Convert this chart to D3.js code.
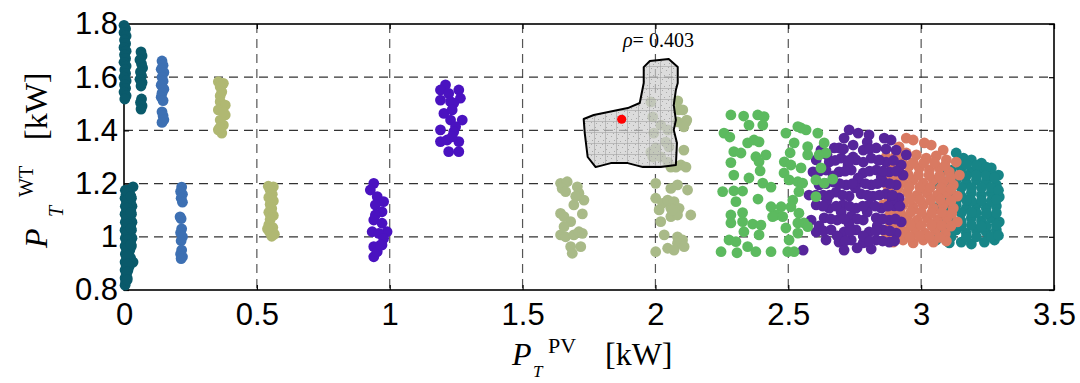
<!DOCTYPE html>
<html>
<head>
<meta charset="utf-8">
<script src="https://cdn.jsdelivr.net/npm/d3@7"></script>
<style>
  body { margin: 0; background: #fff; }
  svg { display: block; }
</style>
</head>
<body>
<svg id="chart" width="1080" height="383"></svg>
<script>
// axis ticks
var xTicks = [0, 0.5, 1, 1.5, 2, 2.5, 3, 3.5];
var xTickLabels = ["0", "0.5", "1", "1.5", "2", "2.5", "3", "3.5"];
var yTicks = [0.8, 1, 1.2, 1.4, 1.6, 1.8];
var yTickLabels = ["0.8", "1", "1.2", "1.4", "1.6", "1.8"];

// scatter groups, values [PV kW, WT kW]
var darkTealPts = [
  [0,1.795],[0.006,1.782],[0,1.768],[0.008,1.755],[0.002,1.740],[0.006,1.726],[0,1.712],
  [0.008,1.698],[0.002,1.684],[0.006,1.670],[0,1.656],[0.008,1.642],[0.003,1.628],[0.006,1.614],
  [0,1.600],[0.008,1.586],[0.002,1.572],[0.006,1.558],[0,1.544],[0.008,1.530],[0.003,1.518],
  [0.005,1.175],[0.015,1.175],[0.008,1.160],[0.022,1.160],[0.004,1.145],[0.018,1.145],[0.028,1.145],
  [0.010,1.130],[0.024,1.130],[0.005,1.115],[0.018,1.115],[0.030,1.115],[0.010,1.100],[0.025,1.100],
  [0.004,1.085],[0.017,1.085],[0.028,1.085],[0.010,1.070],[0.022,1.070],[0.005,1.055],[0.018,1.055],
  [0.030,1.055],[0.010,1.040],[0.024,1.040],[0.004,1.025],[0.017,1.025],[0.028,1.025],[0.010,1.010],
  [0.022,1.010],[0.005,0.995],[0.018,0.995],[0.030,0.995],[0.010,0.980],[0.024,0.980],[0.004,0.965],
  [0.017,0.965],[0.028,0.965],[0.010,0.950],[0.022,0.950],[0.005,0.935],[0.018,0.935],[0.010,0.920],
  [0.025,0.920],[0.004,0.905],[0.016,0.905],[0.034,0.905],[0.008,0.890],[0.020,0.890],[0.004,0.875],
  [0.015,0.875],[0.008,0.860],[0.004,0.845],[0.012,0.845],[0.006,0.830],[0.004,0.818],[0.034,1.188],
  [0.012,1.168],[0.012,1.138],[0.012,1.108],[0.012,1.078],[0.012,1.048],[0.012,1.018],[0.012,0.988],
  [0.012,0.958],[0.012,0.928],[0.012,0.898],[0.012,0.868],[0.012,0.838],[0.026,1.152],[0.026,1.092],
  [0.026,1.032],[0.026,0.972],
  [0.064,1.695],[0.068,1.680],[0.060,1.665],[0.066,1.650],[0.070,1.635],[0.062,1.620],[0.066,1.605],
  [0.060,1.592],[0.068,1.580],[0.064,1.567],[0.066,1.518],[0.062,1.505],[0.068,1.492],[0.064,1.480]
];
var bluePts = [
  [0.143,1.661],[0.147,1.645],[0.140,1.630],[0.150,1.618],[0.143,1.600],[0.147,1.585],[0.140,1.570],
  [0.150,1.555],[0.143,1.540],[0.140,1.525],[0.147,1.512],[0.143,1.470],[0.147,1.455],[0.150,1.440],
  [0.143,1.430],
  [0.217,1.187],[0.213,1.170],[0.220,1.160],[0.215,1.145],[0.220,1.130],[0.211,1.075],[0.215,1.068],
  [0.217,1.030],[0.213,1.015],[0.220,1.000],[0.215,0.985],[0.217,0.950],[0.213,0.935],[0.220,0.925],
  [0.215,0.918]
];
var khakiPts = [
  [0.355,1.583],[0.374,1.577],[0.362,1.564],[0.368,1.545],[0.362,1.508],[0.381,1.495],[0.355,1.477],
  [0.381,1.458],[0.362,1.439],[0.374,1.420],[0.355,1.402],[0.368,1.390],[0.362,1.530],[0.374,1.470],
  [0.360,1.410],
  [0.543,1.190],[0.562,1.188],[0.550,1.175],[0.558,1.160],[0.545,1.148],[0.562,1.135],[0.550,1.122],
  [0.556,1.105],[0.545,1.092],[0.562,1.080],[0.550,1.065],[0.545,1.045],[0.560,1.035],[0.548,1.018],
  [0.556,1.002],[0.566,1.010],[0.540,1.030],[0.553,1.110]
];
var violetPts = [
  [0.940,1.201],[0.927,1.176],[0.953,1.151],[0.977,1.132],[0.946,1.120],[0.971,1.094],[0.946,1.082],
  [0.940,1.063],[0.971,1.051],[0.934,1.019],[0.990,1.019],[0.959,1.013],[0.977,0.994],[0.940,0.963],
  [0.971,0.969],[0.940,0.925],[0.953,0.944],[0.965,0.969],
  [1.210,1.571],[1.191,1.552],[1.222,1.539],[1.260,1.552],[1.266,1.521],[1.191,1.514],[1.229,1.508],
  [1.241,1.502],[1.204,1.464],[1.235,1.477],[1.229,1.439],[1.273,1.439],[1.248,1.414],[1.241,1.395],
  [1.191,1.402],[1.191,1.358],[1.216,1.364],[1.260,1.358],[1.222,1.320],[1.260,1.320],[1.235,1.376]
];
var sagePts = [
  [1.643,1.201],[1.668,1.207],[1.649,1.182],[1.662,1.170],[1.706,1.188],[1.712,1.164],[1.731,1.138],
  [1.693,1.120],[1.643,1.088],[1.656,1.076],[1.681,1.057],[1.725,1.086],[1.643,1.007],[1.662,1.000],
  [1.693,1.007],[1.712,1.019],[1.725,1.013],[1.681,0.963],[1.719,0.963],[1.687,0.938],[1.656,1.038],
  [1.700,1.152],
  [2.001,1.201],[2.058,1.182],[2.083,1.195],[2.121,1.176],[2.001,1.145],[2.027,1.126],[2.046,1.138],
  [2.070,1.132],[2.058,1.107],[2.089,1.107],[2.014,1.101],[2.058,1.076],[2.083,1.082],[2.133,1.082],
  [2.020,1.057],[2.033,1.007],[2.083,1.000],[2.102,0.988],[2.083,0.976],[2.001,0.944],[2.046,0.957],
  [2.070,0.950],[2.108,0.963],[2.064,1.101],
  [1.983,1.507],[1.990,1.451],[2.020,1.420],[2.047,1.402],[2.039,1.356],[2.051,1.338],[1.983,1.319],
  [2.001,1.334],[1.990,1.300],[2.020,1.300],[2.047,1.281],[2.058,1.262],[2.084,1.511],[2.103,1.477],
  [2.084,1.432],[2.115,1.432],[2.107,1.326],[2.096,1.270],[2.115,1.262],[1.994,1.390],[2.118,1.439],
  [2.107,1.413],[2.088,1.477],[2.077,1.262]
];
var greenPts = [
  [2.284,1.458],[2.332,1.454],[2.352,1.420],[2.385,1.458],[2.409,1.452],[2.404,1.420],[2.258,1.390],
  [2.280,1.375],[2.347,1.353],[2.371,1.364],[2.390,1.357],[2.295,1.320],[2.322,1.315],[2.378,1.301],
  [2.416,1.308],[2.390,1.282],[2.284,1.279],[2.295,1.232],[2.394,1.248],[2.352,1.221],[2.404,1.202],
  [2.435,1.187],[2.253,1.170],[2.295,1.173],[2.328,1.172],[2.386,1.142],[2.303,1.132],[2.284,1.082],
  [2.328,1.091],[2.284,1.052],[2.328,1.057],[2.366,1.048],[2.397,1.044],[2.333,1.019],[2.390,1.007],
  [2.277,0.988],[2.303,0.982],[2.347,0.963],[2.247,0.944],[2.307,0.940],[2.378,0.944],[2.435,0.944],
  [2.435,1.113],[2.473,1.113],[2.454,1.082],[2.479,1.076],[2.441,1.076],[2.491,1.390],[2.485,1.282],
  [2.510,1.270],[2.484,1.240],[2.503,1.214],[2.536,1.207],[2.554,1.202],[2.540,1.170],[2.517,1.138],
  [2.510,1.113],[2.540,1.089],[2.536,1.052],[2.491,1.033],[2.536,1.014],[2.503,0.988],[2.498,0.944],
  [2.522,0.944],[2.522,1.353],[2.507,1.316],[2.548,1.409],[2.536,1.414],[2.567,1.402],[2.573,1.339],
  [2.573,1.308],[2.548,1.259],[2.559,1.052],[2.573,1.038],[2.604,1.214],[2.623,1.259],[2.616,1.308],
  [2.642,1.315],[2.635,1.353],[2.611,1.390],[2.635,1.202],[2.667,1.217],[2.604,1.151]
];
var purplePts = [
  [2.710,1.371],[2.729,1.402],[2.763,1.390],[2.804,1.383],[2.861,1.371],[2.887,1.364],
  [2.623,1.326],[2.673,1.334],[2.744,1.345],[2.782,1.326],[2.831,1.334],[2.906,1.326],[2.944,1.308],
  [2.605,1.289],[2.654,1.281],[2.699,1.296],[2.755,1.289],[2.812,1.296],[2.868,1.281],[2.925,1.270],
  [2.593,1.244],[2.642,1.251],[2.691,1.244],[2.737,1.251],[2.782,1.240],[2.831,1.251],[2.880,1.244],
  [2.932,1.232],[2.616,1.195],[2.669,1.206],[2.718,1.195],[2.767,1.206],[2.812,1.195],[2.857,1.206],
  [2.906,1.195],[2.578,1.157],[2.631,1.157],[2.680,1.168],[2.729,1.153],[2.774,1.161],[2.819,1.153],
  [2.868,1.161],[2.917,1.146],[2.605,1.120],[2.654,1.108],[2.706,1.120],[2.755,1.108],[2.804,1.120],
  [2.850,1.108],[2.899,1.116],[2.586,1.063],[2.635,1.071],[2.684,1.063],[2.737,1.078],[2.782,1.063],
  [2.831,1.071],[2.880,1.063],[2.925,1.056],[2.605,1.018],[2.661,1.026],[2.710,1.018],[2.755,1.026],
  [2.804,1.018],[2.857,1.026],[2.906,1.014],[2.642,0.988],[2.691,0.980],[2.737,0.988],[2.782,0.977],
  [2.831,0.988],[2.880,0.980],[2.556,0.950],[2.710,0.950],[2.759,0.958],[2.812,0.954],
  [2.646,1.308],[2.725,1.270],[2.782,1.281],[2.842,1.289],[2.669,1.229],[2.763,1.221],[2.850,1.225],
  [2.646,1.138],[2.752,1.184],[2.891,1.138],[2.699,1.093],[2.797,1.093],[2.616,1.041],[2.729,1.048],
  [2.835,1.041],[2.684,1.003],[2.782,1.003],[2.744,1.300],[2.691,1.334],[2.797,1.356],
  [2.708,1.330],[2.806,1.330],[2.868,1.330],[2.676,1.287],[2.727,1.287],[2.840,1.287],[2.896,1.287],
  [2.617,1.247],[2.714,1.247],[2.806,1.247],[2.855,1.247],[2.906,1.247],[2.642,1.200],[2.693,1.200],
  [2.742,1.200],[2.790,1.200],[2.835,1.200],[2.881,1.200],[2.604,1.157],[2.655,1.157],[2.704,1.157],
  [2.797,1.157],[2.843,1.157],[2.892,1.157],[2.630,1.115],[2.680,1.115],[2.730,1.115],[2.780,1.115],
  [2.827,1.115],[2.875,1.115],[2.920,1.115],[2.660,1.067],[2.710,1.067],[2.760,1.067],[2.855,1.067],
  [2.903,1.067],[2.633,1.022],[2.733,1.022],[2.830,1.022],[2.882,1.022],[2.714,0.984],[2.806,0.984],
  [2.855,0.984],[2.900,0.984]
];
var salmonPts = [
  [2.917,1.338],[2.944,1.371],[2.970,1.364],[3.012,1.353],[3.038,1.345],[3.083,1.326],
  [2.868,1.300],[2.906,1.308],[2.944,1.315],[2.982,1.308],[3.019,1.296],[3.057,1.304],[3.095,1.289],
  [3.132,1.281],[2.880,1.259],[2.917,1.251],[2.955,1.266],[2.993,1.259],[3.031,1.251],[3.068,1.259],
  [3.106,1.244],[3.144,1.232],[2.857,1.206],[2.895,1.214],[2.932,1.206],[2.970,1.214],[3.008,1.202],
  [3.046,1.214],[3.083,1.206],[3.121,1.195],[2.872,1.165],[2.910,1.157],[2.948,1.168],[2.985,1.157],
  [3.023,1.165],[3.061,1.157],[3.098,1.165],[3.136,1.153],[2.857,1.120],[2.895,1.112],[2.932,1.120],
  [2.970,1.112],[3.008,1.120],[3.046,1.108],[3.083,1.120],[3.121,1.108],[2.872,1.071],[2.910,1.063],
  [2.948,1.074],[2.985,1.063],[3.023,1.071],[3.061,1.063],[3.098,1.071],[3.136,1.056],[2.865,1.018],
  [2.902,1.026],[2.940,1.018],[2.978,1.026],[3.015,1.014],[3.053,1.026],[3.091,1.011],[2.895,0.980],
  [2.932,0.988],[2.970,0.977],[3.008,0.988],[3.046,0.980],[3.095,0.984],[2.868,0.988],
  [2.890,1.280],[2.930,1.280],[2.970,1.280],[3.010,1.278],[3.050,1.280],[3.090,1.268],
  [2.870,1.232],[2.912,1.232],[2.950,1.236],[2.990,1.232],[3.030,1.232],[3.070,1.230],[3.110,1.222],
  [2.877,1.186],[2.915,1.186],[2.955,1.188],[2.995,1.186],[3.035,1.186],[3.075,1.184],[3.112,1.180],
  [2.880,1.140],[2.918,1.140],[2.958,1.140],[2.995,1.140],[3.035,1.138],[3.072,1.140],[3.112,1.135],
  [2.885,1.092],[2.922,1.092],[2.962,1.094],[3.000,1.092],[3.040,1.090],[3.078,1.092],[3.115,1.088],
  [2.885,1.045],[2.922,1.045],[2.960,1.045],[3.000,1.043],[3.038,1.045],[3.078,1.042],[3.112,1.040],
  [2.885,1.002],[2.920,1.003],[2.958,1.000],[2.995,1.002],[3.032,1.000],[3.070,0.998]
];
var tealPts = [
  [3.132,1.315],[3.159,1.296],[3.189,1.289],[3.227,1.277],[3.264,1.259],[3.291,1.232],
  [3.076,1.244],[3.113,1.251],[3.151,1.259],[3.189,1.244],[3.227,1.251],[3.264,1.232],
  [3.095,1.206],[3.132,1.214],[3.170,1.202],[3.208,1.214],[3.245,1.206],[3.283,1.195],
  [3.076,1.157],[3.113,1.165],[3.151,1.153],[3.189,1.165],[3.227,1.157],[3.264,1.165],[3.294,1.150],
  [3.095,1.112],[3.132,1.120],[3.170,1.108],[3.208,1.120],[3.245,1.108],[3.283,1.116],
  [3.076,1.063],[3.113,1.071],[3.151,1.059],[3.189,1.071],[3.227,1.059],[3.264,1.071],[3.294,1.056],
  [3.095,1.018],[3.132,1.026],[3.170,1.014],[3.208,1.026],[3.245,1.018],[3.283,1.026],
  [3.057,0.988],[3.106,0.977],[3.151,0.980],[3.189,0.973],[3.238,0.980],[3.276,0.988],
  [3.057,1.200],[3.057,1.110],[3.057,1.030],[3.113,1.190],[3.170,1.230],[3.227,1.185],[3.264,1.135],
  [3.208,1.090],[3.151,1.040],[3.245,1.040],[3.113,1.090],[3.189,1.135],[3.283,1.090],[3.095,1.135],
  [3.170,1.272],[3.208,1.268],[3.245,1.262],[3.113,1.228],[3.151,1.232],[3.208,1.232],[3.245,1.230],
  [3.276,1.222],[3.151,1.185],[3.189,1.185],[3.264,1.185],[3.291,1.175],[3.132,1.138],[3.170,1.138],
  [3.227,1.135],[3.283,1.140],[3.151,1.090],[3.189,1.092],[3.245,1.088],[3.095,1.045],[3.189,1.045],
  [3.227,1.040],[3.283,1.045],[3.113,1.000],[3.170,0.998],[3.208,1.000],[3.264,1.000],[3.291,1.005]
];

// drawn right to left, the later groups sit on top
var groups = [
  { pts: tealPts, color: "#178587" },
  { pts: salmonPts, color: "#d97a62" },
  { pts: purplePts, color: "#56259b" },
  { pts: greenPts, color: "#5cba5f" },
  { pts: sagePts, color: "#a9ba88" },
  { pts: violetPts, color: "#4a12c0" },
  { pts: khakiPts, color: "#b0b872" },
  { pts: bluePts, color: "#3d70b3" },
  { pts: darkTealPts, color: "#0a5a6b" }
];

// hatched region and its marked point
var regionOutline = [
  [1.730,1.443],[1.768,1.458],[1.896,1.484],[1.941,1.503],[1.956,1.578],[1.956,1.638],[1.979,1.661],
  [2.050,1.668],[2.084,1.638],[2.084,1.578],[2.077,1.552],[2.069,1.495],[2.077,1.439],[2.069,1.402],
  [2.081,1.353],[2.077,1.270],[2.020,1.262],[1.953,1.262],[1.896,1.277],[1.832,1.277],[1.775,1.262],
  [1.745,1.300],[1.734,1.390]
];
var redPoint = [1.873, 1.442];
var rhoValue = "0.403";

var svg = d3.select("#chart");
// plot box (window.top is taken, so keep the names long)
var plotLeft = 124, plotRight = 1054, plotTop = 24, plotBottom = 290;

var x = d3.scaleLinear().domain([0, 3.5]).range([plotLeft, plotRight]);
var y = d3.scaleLinear().domain([0.8, 1.8]).range([plotBottom, plotTop]);

// mesh pattern for the region
var defs = svg.append("defs");
var pat = defs.append("pattern")
  .attr("id", "mesh")
  .attr("patternUnits", "userSpaceOnUse")
  .attr("width", 11).attr("height", 11);
pat.append("rect").attr("width", 11).attr("height", 11)
  .attr("fill", "rgb(205,205,205)").attr("fill-opacity", 0.7);
[[2,2],[6,4],[9,8],[4,9],[8,1],[1,6]].forEach(function(p) {
  pat.append("rect").attr("x", p[0]).attr("y", p[1]).attr("width", 1).attr("height", 1)
    .attr("fill", "#aaa");
});
pat.append("path").attr("d", "M0,0H11M0,0V11")
  .attr("stroke", "#999").attr("stroke-width", 1).attr("fill", "none");

// dashed grid
var grid = svg.append("g");
grid.selectAll("line.vx")
  .data(xTicks.slice(1, -1))
  .enter().append("line")
  .attr("x1", function(d) { return x(d); }).attr("x2", function(d) { return x(d); })
  .attr("y1", plotTop).attr("y2", plotBottom)
  .attr("stroke", "#555").attr("stroke-width", 1.2).attr("stroke-dasharray", "9,6");
grid.selectAll("line.hy")
  .data(yTicks.slice(1, -1))
  .enter().append("line")
  .attr("x1", plotLeft).attr("x2", plotRight)
  .attr("y1", function(d) { return y(d); }).attr("y2", function(d) { return y(d); })
  .attr("stroke", "#333").attr("stroke-width", 1.2).attr("stroke-dasharray", "9,6");

// axes, ticks pointing in
var fmtX = function(d, i) { return xTickLabels[i]; };
var fmtY = function(d, i) { return yTickLabels[i]; };

var xAxis = svg.append("g").attr("transform", "translate(0," + plotBottom + ")")
  .call(d3.axisBottom(x).tickValues(xTicks).tickFormat(fmtX)
    .tickSizeInner(-5).tickSizeOuter(0).tickPadding(13));
var xTop = svg.append("g").attr("transform", "translate(0," + plotTop + ")")
  .call(d3.axisTop(x).tickValues(xTicks).tickFormat("")
    .tickSizeInner(-5).tickSizeOuter(0));
var yAxis = svg.append("g").attr("transform", "translate(" + plotLeft + ",0)")
  .call(d3.axisLeft(y).tickValues(yTicks).tickFormat(fmtY)
    .tickSizeInner(-5).tickSizeOuter(0).tickPadding(6));
var yRight = svg.append("g").attr("transform", "translate(" + plotRight + ",0)")
  .call(d3.axisRight(y).tickValues(yTicks).tickFormat("")
    .tickSizeInner(-5).tickSizeOuter(0));

[xAxis, xTop, yAxis, yRight].forEach(function(a) {
  a.select(".domain").remove();
  a.selectAll("line").attr("stroke", "#000").attr("stroke-width", 1.2);
  a.selectAll("text")
    .attr("fill", "#000")
    .style("font-family", "'Liberation Sans', Arial, sans-serif")
    .style("font-size", "31px");
});

svg.append("rect")
  .attr("x", plotLeft).attr("y", plotTop)
  .attr("width", plotRight - plotLeft).attr("height", plotBottom - plotTop)
  .attr("fill", "none").attr("stroke", "#000").attr("stroke-width", 1.6);

// points
groups.forEach(function(g) {
  svg.append("g").selectAll("circle")
    .data(g.pts)
    .enter().append("circle")
    .attr("cx", function(d) { return x(d[0]); })
    .attr("cy", function(d) { return y(d[1]); })
    .attr("r", 5.4)
    .attr("fill", g.color);
});

// region
svg.append("path")
  .datum(regionOutline)
  .attr("d", d3.line().x(function(d) { return x(d[0]); }).y(function(d) { return y(d[1]); })
    .curve(d3.curveLinearClosed))
  .attr("fill", "url(#mesh)")
  .attr("stroke", "#000").attr("stroke-width", 2)
  .attr("stroke-linejoin", "round");

svg.append("circle")
  .attr("cx", x(redPoint[0])).attr("cy", y(redPoint[1]))
  .attr("r", 4.6).attr("fill", "#ff0000");

var serif = "'Liberation Serif', 'Times New Roman', serif";

var rho = svg.append("text")
  .attr("x", 623).attr("y", 47)
  .style("font-family", serif).style("font-size", "20px");
rho.append("tspan").style("font-style", "italic").text("\u03c1");
rho.append("tspan").text("= " + rhoValue);

// x label
var xl = svg.append("g").style("font-family", serif);
xl.append("text").attr("x", 512).attr("y", 365).style("font-size", "32px")
  .style("font-style", "italic").text("P");
xl.append("text").attr("x", 533).attr("y", 377).style("font-size", "17px")
  .style("font-style", "italic").text("T");
xl.append("text").attr("x", 548).attr("y", 353).style("font-size", "22px").text("PV");
xl.append("text").attr("x", 605).attr("y", 365).style("font-size", "32px").text("[kW]");

// y label
var yl = svg.append("g").attr("transform", "translate(47,248) rotate(-90)")
  .style("font-family", serif);
yl.append("text").attr("x", 0).attr("y", 0).style("font-size", "32px")
  .style("font-style", "italic").text("P");
yl.append("text").attr("x", 31).attr("y", 16).style("font-size", "20px")
  .style("font-style", "italic").text("T");
yl.append("text").attr("x", 51).attr("y", -14).style("font-size", "20px").text("WT");
yl.append("text").attr("x", 108).attr("y", 0).style("font-size", "32px").text("[kW]");
</script>
</body>
</html>
